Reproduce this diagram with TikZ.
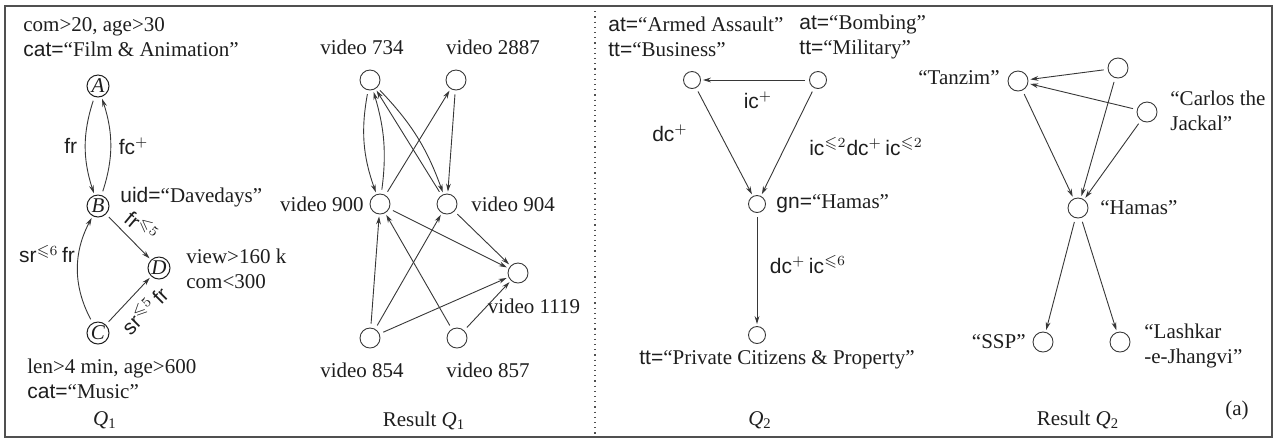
\documentclass[tikz,border=0pt]{standalone}
\usepackage{fontspec}
\usepackage{amssymb}
\setmainfont{Liberation Serif}
\setsansfont{Liberation Sans}
\usetikzlibrary{arrows.meta}
\definecolor{ink}{RGB}{30,30,30}
\definecolor{edgegray}{RGB}{55,55,55}
\definecolor{framegray}{RGB}{80,80,80}
\newcommand{\lsup}[1]{\ensuremath{^{\leqslant #1}}}
\newcommand{\psup}{\ensuremath{^{+}}}
\newcommand{\qname}[1]{\textit{Q}\textsubscript{#1}}

\begin{document}
\begin{tikzpicture}[x=.5pt,y=-.5pt,
 every node/.style={font=\fontsize{10.5}{12.5}\selectfont,text=ink},
 txt/.style={inner sep=1pt,align=left},
 lab/.style={inner sep=1pt,font=\fontsize{10.5}{12.5}\selectfont\sffamily},
 qnode/.style={circle,draw=ink,line width=.5pt,minimum size=11pt,inner sep=0pt,
   font=\fontsize{10.5}{12}\selectfont\itshape},
 rnode/.style={circle,draw=edgegray,line width=.45pt,minimum size=10pt,inner sep=0pt},
 snode/.style={rnode,minimum size=8.5pt},
 link/.style={-{Stealth[length=4pt,width=2.4pt]},edgegray,line width=.45pt,
   shorten >=1pt,shorten <=2pt}]
\useasboundingbox (0,0) rectangle (1277,441);
\draw[framegray,line width=.8pt] (5,6) rectangle (1272,437);
\draw[framegray,dotted,line width=.6pt] (595,6) -- (595,437);

% query Q1
\node[qnode] (A) at (98,86) {A};
\node[qnode] (B) at (98,206) {B};
\node[qnode] (D) at (159,268) {D};
\node[qnode] (C) at (98,333) {C};
\node[txt,anchor=west] (Aattr) at (21,37) {com>20, age>30\\\textsf{cat=}“Film \& Animation”};
\node[txt,anchor=west] (Battr) at (118,197) {\textsf{uid=}“Davedays”};
\node[txt,anchor=west] (Dattr) at (184,269) {view>160 k\\com<300};
\node[txt,anchor=west] (Cattr) at (25,379) {len>4 min, age>600\\\textsf{cat=}“Music”};
\node (q1) at (105,420) {\qname{1}};
\draw[link] (A) to[bend right=18] node[lab,left=3pt] {fr} (B);
\draw[link] (B) to[bend right=18] node[lab,right=3pt] {fc\psup} (A);
\draw[link] (B) -- (D);
\node[lab,rotate=-40] (BDlab) at (142,226) {fr\lsup{5}};
\draw[link] (C) to[bend left=28] (B);
\node[lab] (CBlab) at (47,254) {sr\lsup{6}\,fr};
\draw[link] (C) -- (D);
\node[lab,rotate=45] (CDlab) at (144,310) {sr\lsup{5}\,fr};

% answer of Q1
\node[rnode] (v734) at (370,80) {};
\node[rnode] (v2887) at (456,80) {};
\node[rnode] (v900) at (380,204) {};
\node[rnode] (v904) at (447,204) {};
\node[rnode] (v1119) at (518,273) {};
\node[rnode] (v854) at (370,338) {};
\node[rnode] (v857) at (457,338) {};
\node[txt] (l734) at (362,47) {video 734};
\node[txt] (l2887) at (493,47) {video 2887};
\node[txt,anchor=east] (l900) at (366,204) {video 900};
\node[txt,anchor=west] (l904) at (469,204) {video 904};
\node[txt] (l1119) at (534,306) {video 1119};
\node[txt] (l854) at (362,370) {video 854};
\node[txt] (l857) at (488,370) {video 857};
\node (r1) at (424,421) {Result \qname{1}};
\draw[link] (v734) to[bend right=15] (v900);
\draw[link] (v900) to[bend right=12] (v734);
\draw[link] (v734) to[bend left=12] (v904);
\foreach \a/\b in {v904/v734,v900/v2887,v2887/v904,v900/v1119,v904/v1119,
  v854/v900,v854/v904,v854/v1119,v857/v900,v857/v1119}
  \draw[link] (\a) -- (\b);

% query Q2
\node[snode] (armed) at (692,80) {};
\node[snode] (bomb) at (818,80) {};
\node[snode] (hamas) at (757,204) {};
\node[snode] (civil) at (757,335) {};
\node[txt,anchor=west] (armedattr) at (606,37) {\textsf{at=}“Armed Assault”\\\textsf{tt=}“Business”};
\node[txt,anchor=west] (bombattr) at (797,37) {\textsf{at=}“Bombing”\\\textsf{tt=}“Military”};
\node[txt,anchor=west] (hamasattr) at (774,204) {\textsf{gn=}“Hamas”};
\node[txt] (civilattr) at (777,360) {\textsf{tt=}“Private Citizens \& Property”};
\node (q2) at (760,420) {\qname{2}};
\draw[link] (bomb) -- (armed);
\draw[link] (armed) -- (hamas);
\draw[link] (bomb) -- (hamas);
\draw[link] (hamas) -- (civil);
\node[lab] (ablab) at (758,100) {ic\psup};
\node[lab] (ahlab) at (670,133) {dc\psup};
\node[lab] (bhlab) at (866,147) {ic\lsup{2}dc\psup\,ic\lsup{2}};
\node[lab] (hclab) at (808,265) {dc\psup\,ic\lsup{6}};

% answer of Q2
\node[rnode] (tanzim) at (1018,81) {};
\node[rnode] (grp) at (1118,68) {};
\node[rnode] (carlos) at (1147,112) {};
\node[rnode] (rhamas) at (1078,208) {};
\node[rnode] (ssp) at (1043,342) {};
\node[rnode] (lej) at (1120,342) {};
\node[txt,anchor=east] (ltanzim) at (1002,78) {“Tanzim”};
\node[txt,anchor=west] (lcarlos) at (1168,111) {“Carlos the\\Jackal”};
\node[txt,anchor=west] (lhamas) at (1098,208) {“Hamas”};
\node[txt,anchor=east] (lssp) at (1028,342) {“SSP”};
\node[txt,anchor=west] (llej) at (1142,346) {“Lashkar\\-e-Jhangvi”};
\node (r2) at (1078,420) {Result \qname{2}};
\node (tag) at (1237,410) {(a)};
\foreach \a/\b in {grp/tanzim,carlos/tanzim,tanzim/rhamas,grp/rhamas,
  carlos/rhamas,rhamas/ssp,rhamas/lej}
  \draw[link] (\a) -- (\b);
\end{tikzpicture}
\end{document}
